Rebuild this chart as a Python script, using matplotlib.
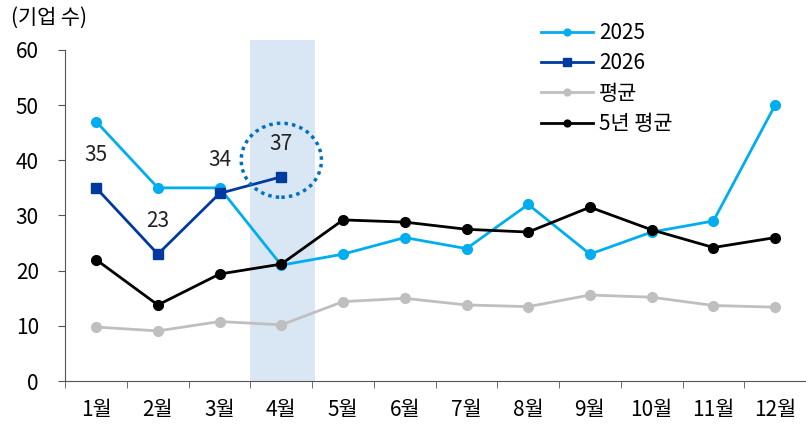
import numpy as np
import matplotlib as mpl
mpl.use('Agg')
import matplotlib.pyplot as plt
from matplotlib.patches import Ellipse

plt.rcParams['font.family'] = ['Noto Sans CJK KR', 'DejaVu Sans']

months = ['1월', '2월', '3월', '4월', '5월', '6월', '7월', '8월', '9월', '10월', '11월', '12월']
y2025 = [47, 35, 35, 21, 23, 26, 24, 32, 23, 27, 29, 50]
y2026 = [35, 23, 34, 37]
avg = [9.8, 9.1, 10.8, 10.2, 14.4, 15.0, 13.8, 13.5, 15.6, 15.2, 13.7, 13.4]
avg5 = [22.0, 13.8, 19.4, 21.2, 29.2, 28.8, 27.5, 27.0, 31.5, 27.4, 24.2, 26.0]
highlight = 3  # 4월

x = np.arange(len(months))

fig = plt.figure(figsize=(8.06, 4.24), dpi=100)
ax = fig.add_axes([0.081, 0.101, 0.919, 0.805])

ax.axvspan(highlight - 0.5, highlight + 0.55, color='#d9e7f5', zorder=0, lw=0)

ax.plot(x, avg, color='#bfbfbf', lw=2, marker='o', ms=7, label='평균', zorder=2)
ax.plot(x, y2025, color='#00adef', lw=2, marker='o', ms=7, label='2025', zorder=3)
ax.plot(x[:len(y2026)], y2026, color='#003a9e', lw=2, marker='s', ms=7.5, label='2026', zorder=4)
ax.plot(x, avg5, color='black', lw=2, marker='o', ms=7, label='5년 평균', zorder=5)

for i, v in enumerate(y2026):
    ax.text(x[i], v + 6, str(v), ha='center', va='center', fontsize=15, color='#222222')

circ = Ellipse((highlight, 40), width=1.3, height=13.4, fill=False,
               edgecolor='#0070c0', lw=2.5, linestyle=(0, (1, 1.2)), zorder=6)
ax.add_patch(circ)

ax.set_xlim(-0.5, 11.5)
ax.set_ylim(0, 61.8)
ax.set_yticks(np.arange(0, 61, 10))
ax.set_xticks(x)
ax.set_xticklabels(months)
ax.set_xticks(np.arange(-0.5, 12, 1), minor=True)
ax.tick_params(axis='x', which='major', length=0, pad=13, labelsize=15)
ax.tick_params(axis='x', which='minor', length=5, color='#555555')
ax.tick_params(axis='y', direction='out', length=5, color='#555555', pad=14, labelsize=15)
for s in ['top', 'right']:
    ax.spines[s].set_visible(False)
ax.spines['left'].set_bounds(0, 60)
ax.spines['left'].set_color('#555555')
ax.spines['bottom'].set_color('#555555')

fig.text(0.014, 0.957, '(기업 수)', fontsize=15, ha='left', va='center')

handles, labels = ax.get_legend_handles_labels()
order = [1, 2, 0, 3]
leg = fig.legend([handles[i] for i in order], [labels[i] for i in order],
                 loc='upper left', bbox_to_anchor=(0.671, 0.948), frameon=False,
                 borderpad=0, borderaxespad=0,
                 fontsize=15, handlelength=2.5, labelspacing=0.4, handletextpad=0.3,
                 markerscale=0.7)

fig.savefig('out.png', dpi=100)
